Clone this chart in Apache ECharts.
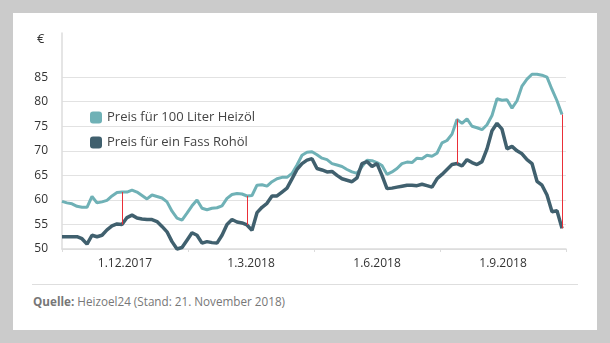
<!DOCTYPE html>
<html>
<head>
<meta charset="utf-8">
<script src="https://cdn.jsdelivr.net/npm/echarts@6/dist/echarts.min.js"></script>
<style>
html,body{margin:0;padding:0;background:#cbcbcb;}
#card{position:absolute;left:13px;top:13px;width:584px;height:317px;background:#fff;}
#sep{position:absolute;left:32px;top:284px;width:546px;height:1px;background:#dedede;}
#src{position:absolute;left:33px;top:293px;font:11.7px "Open Sans";color:#777;white-space:nowrap;}
#src b{font-weight:700;}
#chart{position:absolute;left:0;top:0;width:610px;height:343px;}
</style>
</head>
<body>
<div id="card"></div>
<div id="sep"></div>
<div id="src"><b>Quelle:</b> Heizoel24 (Stand: 21. November 2018)</div>
<div id="chart"></div>
<script>
// Preis für 100 Liter Heizöl (€), sampled evenly across the period
const heizoel = [59.7,59.4,59.2,58.7,58.5,58.5,60.7,59.4,59.6,59.9,
  60.8,61.5,61.6,61.6,62.0,61.6,60.9,60.2,61.0,60.7,
  60.4,59.6,57.7,56.3,55.9,57.3,58.8,60.0,58.3,58.0,
  58.3,58.4,58.8,60.3,61.1,61.3,61.2,60.8,60.9,63.0,
  63.1,62.8,63.7,64.3,64.6,64.6,65.4,67.1,69.1,69.7,
  69.8,69.2,68.5,68.2,67.4,67.1,66.8,66.2,65.7,65.4,
  66.8,68.1,68.0,67.6,67.0,65.2,65.7,66.4,67.4,67.7,
  67.6,68.5,68.4,69.1,68.9,69.5,71.6,72.1,73.4,76.4,
  75.6,76.5,75.0,74.7,74.3,75.3,77.2,80.6,80.3,80.4,
  78.7,80.2,83.2,84.6,85.6,85.6,85.4,85.0,82.5,80.2,77.4];
// Preis für ein Fass Rohöl (€)
const rohoel = [52.5,52.5,52.5,52.5,52.1,51.0,52.8,52.5,52.8,53.9,
  54.7,55.1,55.0,56.4,56.9,56.3,56.1,56.0,56.0,55.6,
  54.6,53.5,51.5,50.0,50.3,51.8,53.3,52.8,51.2,51.5,
  51.3,51.2,52.8,55.0,56.0,55.5,55.3,54.9,53.8,57.4,
  58.5,59.3,60.8,60.8,61.6,62.4,64.3,66.2,67.4,68.1,
  68.4,66.4,66.1,65.7,65.8,65.0,64.3,64.0,63.7,64.5,
  67.4,67.8,66.8,67.4,65.0,62.3,62.4,62.6,62.8,63.0,
  63.0,62.9,63.2,62.9,62.6,64.3,65.2,66.2,67.2,67.4,
  66.9,68.2,67.6,67.2,67.8,70.4,74.1,75.6,74.4,70.4,
  70.9,70.0,69.4,68.2,67.4,63.8,63.0,61.0,57.6,57.8,54.2];
const diffIdx = [12, 37, 79, 100];
const xLabels = ['1.12.2017','1.3.2018','1.6.2018','1.9.2018'];
const yTicks = [50,55,60,65,70,75,80,85];
const names = ['Preis für 100 Liter Heizöl','Preis für ein Fass Rohöl'];

const chart = echarts.init(document.getElementById('chart'), null, {renderer:'canvas'});
const font = '"Open Sans", sans-serif';
chart.setOption({
  backgroundColor: 'transparent',
  animation: false,
  textStyle: {fontFamily: font},
  grid: {left: 62, right: 44, top: 33, bottom: 94},
  legend: {
    orient: 'vertical', left: 85, top: 106, itemWidth: 12, itemHeight: 12, itemGap: 12,
    icon: 'roundRect',
    textStyle: {fontSize: 13, color: '#444', fontFamily: font},
    data: names
  },
  graphic: [{type:'text', left: 37, top: 33, style:{text:'€', font:'13px "Open Sans"', fill:'#333'}}],
  xAxis: [
    {type:'value', min:0, max:100.8, show:false},
    {type:'category', data:xLabels, position:'bottom', boundaryGap:true,
     axisLine:{lineStyle:{color:'#dcdcdc', width:1.5}},
     axisTick:{show:true, length:3, lineStyle:{color:'#dcdcdc'}},
     axisLabel:{color:'#333', fontSize:12, margin:9, fontFamily:font},
     splitLine:{show:false}}
  ],
  yAxis: {
    type:'value', min:50, max:94, interval:5,
    axisLine:{show:true, lineStyle:{color:'#dcdcdc', width:1.5}},
    axisTick:{show:false, customValues:yTicks},
    axisLabel:{color:'#333', fontSize:12, margin:14, fontFamily:font, customValues:yTicks},
    splitLine:{show:true, lineStyle:{color:'#e2e2e2', width:1}}
  },
  series: [
    {name:names[0], type:'line', xAxisIndex:0, data:heizoel.map((v,i)=>[i,v]),
     showSymbol:false, symbol:'none', clip:false, color:'#6fb1b6',
     lineStyle:{width:3, color:'#6fb1b6'}, z:3,
     markLine:{silent:true, symbol:'none', label:{show:false},
       lineStyle:{color:'#ea2f38', width:1, type:'solid'},
       data: diffIdx.map(i=>[{coord:[i,heizoel[i]]},{coord:[i,rohoel[i]]}])}},
    {name:names[1], type:'line', xAxisIndex:0, data:rohoel.map((v,i)=>[i,v]),
     showSymbol:false, symbol:'none', clip:false, color:'#40606e',
     lineStyle:{width:3.5, color:'#40606e'}, z:4}
  ]
});
</script>
</body>
</html>
